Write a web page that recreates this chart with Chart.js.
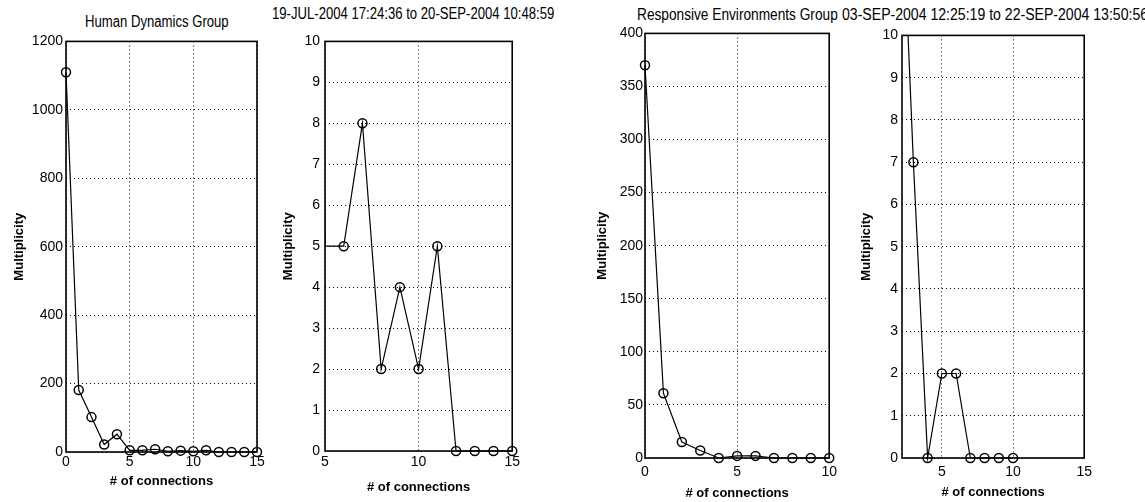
<!DOCTYPE html>
<html>
<head>
<meta charset="utf-8">
<title>Multiplicity vs. # of connections</title>
<script src="https://cdn.jsdelivr.net/npm/chart.js@4.4.1/dist/chart.umd.min.js"></script>
<style>
  html, body { margin: 0; padding: 0; background: #fff; }
  body {
    width: 1145px; height: 502px; position: relative; overflow: hidden;
    font-family: "Liberation Sans", Arial, sans-serif;
  }
  /* narrow-looking titles: regular face squeezed horizontally */
  .title {
    position: absolute; font-size: 16px; line-height: 16px; white-space: nowrap; color: #000;
    transform-origin: 0 0;
  }
  canvas { position: absolute; }
</style>
</head>
<body>
<canvas id="hdFull"></canvas>
<canvas id="hdZoom"></canvas>
<canvas id="reFull"></canvas>
<canvas id="reZoom"></canvas>
<script>
// Human Dynamics Group
var hdConnections = [0, 1, 2, 3, 4, 5, 6, 7, 8, 9, 10, 11, 12, 13, 14, 15];
var hdMultiplicity = [1110, 181, 102, 22, 52, 5, 5, 8, 2, 4, 2, 5, 0, 0, 0, 0];
var hdTitle = 'Human Dynamics Group';
var hdPeriod = '19-JUL-2004 17:24:36 to 20-SEP-2004 10:48:59';

// Responsive Environments Group
var reConnections = [0, 1, 2, 3, 4, 5, 6, 7, 8, 9, 10];
var reMultiplicity = [370, 61, 15, 7, 0, 2, 2, 0, 0, 0, 0];
var reTitle = 'Responsive Environments Group';
var rePeriod = '03-SEP-2004 12:25:19 to 22-SEP-2004 13:50:56';

// tick values
var hdFullXTicks = [0, 5, 10, 15];
var hdFullYTicks = [0, 200, 400, 600, 800, 1000, 1200];
var hdZoomXTicks = [5, 10, 15];
var zoomYTicks = [0, 1, 2, 3, 4, 5, 6, 7, 8, 9, 10];
var reFullXTicks = [0, 5, 10];
var reFullYTicks = [0, 50, 100, 150, 200, 250, 300, 350, 400];
var reZoomXTicks = [5, 10, 15];

var FONT = '"Liberation Sans", Arial, sans-serif';
var Y_W = 60, X_H = 45, PAD_T = 10, PAD_R = 10;

// titles above the axes: text, left, top, horizontal squeeze
[[hdTitle, 85, 14, 0.82], [hdPeriod, 272, 6, 0.82],
 [reTitle, 637, 7, 0.855], [rePeriod, 842, 7, 0.88]].forEach(function (t) {
  var d = document.createElement('div');
  d.className = 'title';
  d.textContent = t[0];
  d.style.left = t[1] + 'px';
  d.style.top = t[2] + 'px';
  d.style.transform = 'scaleX(' + t[3] + ')';
  document.body.appendChild(d);
});

// closed box round the plot area
var boxPlugin = {
  id: 'box',
  afterDraw: function (chart) {
    var a = chart.chartArea, c = chart.ctx;
    c.save();
    c.strokeStyle = '#000';
    c.lineWidth = 1.6;
    c.strokeRect(a.left, a.top, a.right - a.left, a.bottom - a.top);
    c.restore();
  }
};

function tickList(values) {
  return function (axis) {
    axis.ticks = values.map(function (v) { return { value: v }; });
  };
}

function plain(v) { return String(v); }

function makePanel(p) {
  var cv = document.getElementById(p.id);
  var w = p.area[2] - p.area[0] + Y_W + PAD_R;
  var h = p.area[3] - p.area[1] + PAD_T + X_H;
  cv.width = w; cv.height = h;
  cv.style.left = (p.area[0] - Y_W) + 'px';
  cv.style.top = (p.area[1] - PAD_T) + 'px';
  cv.style.width = w + 'px';
  cv.style.height = h + 'px';

  var pts = p.conn.map(function (x, i) { return { x: x, y: p.mult[i] }; });

  new Chart(cv, {
    type: 'line',
    data: {
      datasets: [{
        data: pts,
        borderColor: '#000',
        borderWidth: 1.2,
        pointStyle: 'circle',
        pointRadius: function (ctx) {
          return (p.hideEdge && ctx.raw && ctx.raw.x <= p.xRange[0]) ? 0 : 4.5;
        },
        pointBorderWidth: 1.5,
        pointBorderColor: '#000',
        pointBackgroundColor: 'rgba(0,0,0,0)',
        tension: 0,
        clip: p.clip
      }]
    },
    options: {
      responsive: false,
      animation: false,
      layout: { padding: { top: PAD_T, right: PAD_R, left: 0, bottom: 0 } },
      plugins: { legend: { display: false }, tooltip: { enabled: false } },
      scales: {
        x: {
          type: 'linear',
          min: p.xRange[0], max: p.xRange[1],
          afterBuildTicks: tickList(p.xTicks),
          afterFit: function (s) { s.height = X_H; },
          grid: { color: '#000', lineWidth: 1, drawTicks: false },
          border: { display: false, dash: [1, 3] },
          ticks: { color: '#000', padding: p.xTickPad, autoSkip: false, maxRotation: 0, callback: plain, font: { family: FONT, size: 14 } },
          title: {
            display: true, text: '# of connections', color: '#000',
            font: { family: FONT, size: 13, weight: 'bold' },
            padding: { top: 0, bottom: p.xTitlePad }
          }
        },
        y: {
          type: 'linear',
          min: p.yRange[0], max: p.yRange[1],
          afterBuildTicks: tickList(p.yTicks),
          afterFit: function (s) { s.width = Y_W; },
          grid: { color: '#000', lineWidth: 1, drawTicks: false },
          border: { display: false, dash: [1, 3] },
          ticks: { color: '#000', padding: p.yTickPad, autoSkip: false, callback: plain, font: { family: FONT, size: 14 } },
          title: {
            display: true, text: 'Multiplicity', color: '#000',
            font: { family: FONT, size: 13, weight: 'bold' },
            padding: { top: p.yTitlePad, bottom: 0 }
          }
        }
      }
    },
    plugins: [boxPlugin]
  });
}

var edgeClip = { left: 8, top: 8, right: 8, bottom: 8 };
var zoomClip = { left: 0, top: 0, right: 8, bottom: 8 };

makePanel({ id: 'hdFull', conn: hdConnections, mult: hdMultiplicity, area: [66, 40, 257, 452],
  xRange: [0, 15], yRange: [0, 1200], xTicks: hdFullXTicks, yTicks: hdFullYTicks,
  clip: edgeClip, yTitlePad: 6, xTitlePad: 8, xTickPad: 2, yTickPad: 3 });
makePanel({ id: 'hdZoom', conn: hdConnections, mult: hdMultiplicity, area: [325, 38, 513, 451],
  xRange: [5, 15], yRange: [0, 10], xTicks: hdZoomXTicks, yTicks: zoomYTicks, hideEdge: true,
  clip: zoomClip, yTitlePad: 16, xTitlePad: 1, xTickPad: 3, yTickPad: 5 });
makePanel({ id: 'reFull', conn: reConnections, mult: reMultiplicity, area: [645, 33, 833, 458],
  xRange: [0, 10], yRange: [0, 400], xTicks: reFullXTicks, yTicks: reFullYTicks,
  clip: edgeClip, yTitlePad: 10, xTitlePad: 2, xTickPad: 6, yTickPad: 2 });
makePanel({ id: 'reZoom', conn: reConnections, mult: reMultiplicity, area: [902, 33, 1088, 458],
  xRange: [2.2, 15], yRange: [0, 10], xTicks: reZoomXTicks, yTicks: zoomYTicks, hideEdge: true,
  clip: zoomClip, yTitlePad: 17, xTitlePad: 3, xTickPad: 6, yTickPad: 4 });
</script>
</body>
</html>
